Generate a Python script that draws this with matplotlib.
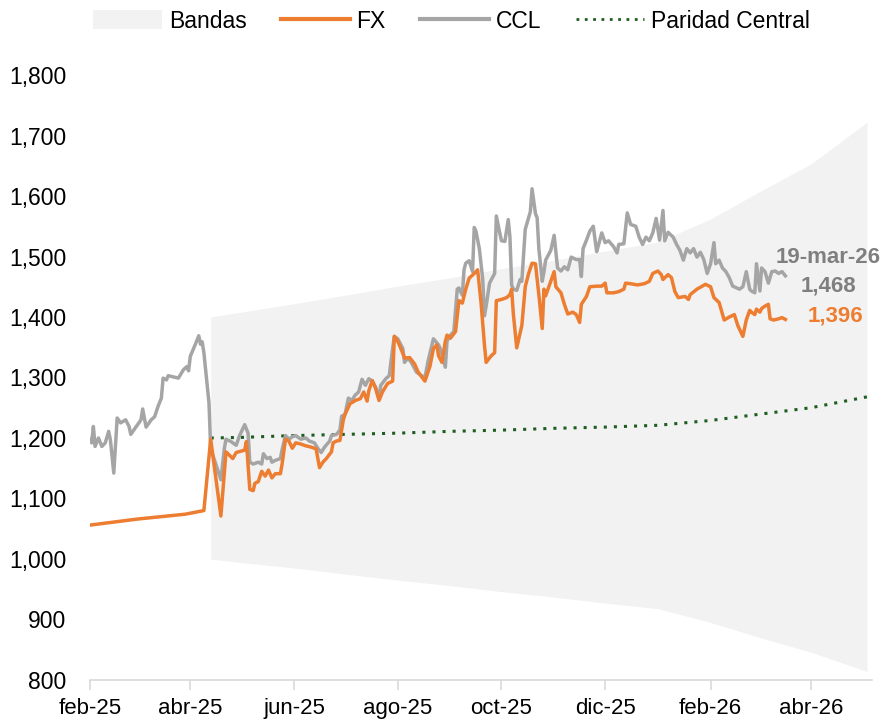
import matplotlib
matplotlib.use("Agg")
import matplotlib.pyplot as plt
from matplotlib.patches import Patch
from matplotlib.lines import Line2D
import pandas as pd

# Tipo de cambio oficial (FX) y CCL
fx_dates = [
    "2025-02-01", "2025-02-15", "2025-03-01", "2025-03-15", "2025-03-29", "2025-04-09",
    "2025-04-13", "2025-04-19", "2025-04-22", "2025-04-26", "2025-04-28", "2025-05-03",
    "2025-05-04", "2025-05-06", "2025-05-08", "2025-05-09", "2025-05-11", "2025-05-13",
    "2025-05-15", "2025-05-17", "2025-05-19", "2025-05-21", "2025-05-24", "2025-05-25",
    "2025-05-27", "2025-05-29", "2025-05-31", "2025-06-02", "2025-06-05", "2025-06-08",
    "2025-06-11", "2025-06-14", "2025-06-16", "2025-06-18", "2025-06-20", "2025-06-23",
    "2025-06-24", "2025-06-26", "2025-06-28", "2025-06-30", "2025-07-01", "2025-07-04",
    "2025-07-06", "2025-07-07", "2025-07-10", "2025-07-12", "2025-07-14", "2025-07-15",
    "2025-07-17", "2025-07-19", "2025-07-21", "2025-07-23", "2025-07-26", "2025-07-29",
    "2025-07-30", "2025-08-01", "2025-08-04", "2025-08-05", "2025-08-08", "2025-08-11",
    "2025-08-13", "2025-08-17", "2025-08-20", "2025-08-22", "2025-08-24", "2025-08-25",
    "2025-08-27", "2025-08-29", "2025-08-30", "2025-09-01", "2025-09-04", "2025-09-06",
    "2025-09-08", "2025-09-10", "2025-09-12", "2025-09-15", "2025-09-17", "2025-09-19",
    "2025-09-21", "2025-09-22", "2025-09-25", "2025-09-27", "2025-09-28", "2025-10-01",
    "2025-10-04", "2025-10-06", "2025-10-07", "2025-10-08", "2025-10-10", "2025-10-13",
    "2025-10-15", "2025-10-17", "2025-10-19", "2025-10-21", "2025-10-23", "2025-10-25",
    "2025-10-26", "2025-10-27", "2025-10-29", "2025-11-01", "2025-11-02", "2025-11-05",
    "2025-11-07", "2025-11-09", "2025-11-12", "2025-11-14", "2025-11-16", "2025-11-17",
    "2025-11-20", "2025-11-22", "2025-11-26", "2025-11-29", "2025-12-01", "2025-12-02",
    "2025-12-06", "2025-12-09", "2025-12-12", "2025-12-13", "2025-12-16", "2025-12-20",
    "2025-12-24", "2025-12-27", "2025-12-29", "2026-01-01", "2026-01-03", "2026-01-04",
    "2026-01-07", "2026-01-09", "2026-01-11", "2026-01-13", "2026-01-17", "2026-01-19",
    "2026-01-20", "2026-01-24", "2026-01-29", "2026-02-01", "2026-02-03", "2026-02-06",
    "2026-02-08", "2026-02-09", "2026-02-12", "2026-02-15", "2026-02-17", "2026-02-20",
    "2026-02-22", "2026-02-24", "2026-02-25", "2026-02-27", "2026-02-28", "2026-03-02",
    "2026-03-03", "2026-03-05", "2026-03-07", "2026-03-08", "2026-03-10", "2026-03-13",
    "2026-03-15", "2026-03-17",
]
fx_values = [
    1056, 1061, 1066, 1070, 1074, 1080,
    1198, 1071, 1177, 1166, 1176, 1180,
    1194, 1115, 1113, 1125, 1128, 1145,
    1137, 1147, 1134, 1141, 1141, 1157,
    1198, 1195, 1183, 1192, 1190, 1187,
    1185, 1182, 1151, 1160, 1166, 1177,
    1192, 1195, 1196, 1230, 1239, 1257,
    1260, 1262, 1265, 1276, 1261, 1278,
    1295, 1282, 1262, 1276, 1290, 1294,
    1368, 1360, 1340, 1332, 1333, 1322,
    1309, 1294, 1319, 1348, 1354, 1336,
    1325, 1360, 1370, 1365, 1376, 1427,
    1423, 1446, 1464, 1472, 1478, 1424,
    1354, 1325, 1336, 1341, 1427, 1429,
    1432, 1437, 1446, 1405, 1349, 1386,
    1450, 1472, 1489, 1488, 1437, 1381,
    1446, 1435, 1451, 1475, 1450, 1440,
    1421, 1405, 1408, 1404, 1391, 1421,
    1434, 1450, 1451, 1451, 1456, 1440,
    1440, 1442, 1446, 1456, 1455, 1453,
    1455, 1459, 1472, 1476, 1470, 1462,
    1470, 1465, 1442, 1432, 1434, 1429,
    1437, 1446, 1454, 1450, 1432, 1424,
    1405, 1395, 1400, 1404, 1386, 1368,
    1395, 1411, 1408, 1404, 1413, 1408,
    1414, 1418, 1421, 1397, 1395, 1397,
    1399, 1396,
]

ccl_dates = [
    "2025-02-01", "2025-02-02", "2025-02-03", "2025-02-04", "2025-02-06", "2025-02-08",
    "2025-02-10", "2025-02-12", "2025-02-13", "2025-02-15", "2025-02-17", "2025-02-19",
    "2025-02-22", "2025-02-24", "2025-02-25", "2025-02-28", "2025-03-03", "2025-03-04",
    "2025-03-06", "2025-03-09", "2025-03-11", "2025-03-13", "2025-03-15", "2025-03-16",
    "2025-03-18", "2025-03-19", "2025-03-22", "2025-03-25", "2025-03-28", "2025-03-30",
    "2025-03-31", "2025-04-01", "2025-04-04", "2025-04-06", "2025-04-07", "2025-04-08",
    "2025-04-09", "2025-04-12", "2025-04-13", "2025-04-16", "2025-04-19", "2025-04-21",
    "2025-04-22", "2025-04-25", "2025-04-28", "2025-04-30", "2025-05-03", "2025-05-05",
    "2025-05-06", "2025-05-08", "2025-05-11", "2025-05-13", "2025-05-14", "2025-05-16",
    "2025-05-18", "2025-05-19", "2025-05-21", "2025-05-24", "2025-05-25", "2025-05-27",
    "2025-05-29", "2025-05-31", "2025-06-02", "2025-06-05", "2025-06-08", "2025-06-10",
    "2025-06-13", "2025-06-15", "2025-06-17", "2025-06-19", "2025-06-22", "2025-06-23",
    "2025-06-26", "2025-06-28", "2025-06-29", "2025-07-01", "2025-07-03", "2025-07-05",
    "2025-07-07", "2025-07-09", "2025-07-11", "2025-07-13", "2025-07-15", "2025-07-17",
    "2025-07-19", "2025-07-21", "2025-07-22", "2025-07-25", "2025-07-27", "2025-07-29",
    "2025-07-30", "2025-08-01", "2025-08-04", "2025-08-05", "2025-08-07", "2025-08-09",
    "2025-08-12", "2025-08-15", "2025-08-17", "2025-08-19", "2025-08-22", "2025-08-25",
    "2025-08-26", "2025-08-29", "2025-08-30", "2025-09-01", "2025-09-03", "2025-09-05",
    "2025-09-06", "2025-09-08", "2025-09-09", "2025-09-10", "2025-09-12", "2025-09-14",
    "2025-09-15", "2025-09-16", "2025-09-18", "2025-09-20", "2025-09-21", "2025-09-22",
    "2025-09-24", "2025-09-27", "2025-09-28", "2025-09-30", "2025-10-01", "2025-10-03",
    "2025-10-05", "2025-10-06", "2025-10-07", "2025-10-08", "2025-10-10", "2025-10-12",
    "2025-10-13", "2025-10-15", "2025-10-17", "2025-10-18", "2025-10-19", "2025-10-21",
    "2025-10-22", "2025-10-23", "2025-10-25", "2025-10-26", "2025-10-27", "2025-10-30",
    "2025-11-01", "2025-11-03", "2025-11-05", "2025-11-07", "2025-11-09", "2025-11-11",
    "2025-11-14", "2025-11-16", "2025-11-17", "2025-11-18", "2025-11-20", "2025-11-22",
    "2025-11-24", "2025-11-26", "2025-11-27", "2025-11-29", "2025-12-01", "2025-12-03",
    "2025-12-06", "2025-12-08", "2025-12-09", "2025-12-12", "2025-12-14", "2025-12-16",
    "2025-12-19", "2025-12-21", "2025-12-23", "2025-12-25", "2025-12-27", "2025-12-29",
    "2025-12-31", "2026-01-02", "2026-01-04", "2026-01-05", "2026-01-07", "2026-01-10",
    "2026-01-12", "2026-01-14", "2026-01-16", "2026-01-18", "2026-01-20", "2026-01-22",
    "2026-01-24", "2026-01-26", "2026-01-28", "2026-01-30", "2026-02-01", "2026-02-03",
    "2026-02-04", "2026-02-06", "2026-02-08", "2026-02-10", "2026-02-12", "2026-02-14",
    "2026-02-18", "2026-02-20", "2026-02-22", "2026-02-24", "2026-02-25", "2026-02-27",
    "2026-02-28", "2026-03-02", "2026-03-03", "2026-03-05", "2026-03-07", "2026-03-09",
    "2026-03-11", "2026-03-13", "2026-03-15", "2026-03-17",
]
ccl_values = [
    1197, 1192, 1219, 1186, 1200, 1186,
    1192, 1211, 1197, 1142, 1233, 1225,
    1230, 1219, 1206, 1218, 1230, 1248,
    1218, 1230, 1235, 1252, 1266, 1299,
    1296, 1303, 1301, 1299, 1313, 1318,
    1311, 1335, 1355, 1369, 1355, 1359,
    1341, 1258, 1182, 1157, 1131, 1182,
    1198, 1194, 1188, 1204, 1222, 1208,
    1160, 1157, 1160, 1157, 1174, 1166,
    1168, 1160, 1163, 1166, 1181, 1204,
    1198, 1202, 1204, 1198, 1200, 1195,
    1192, 1183, 1176, 1185, 1195, 1204,
    1206, 1213, 1236, 1239, 1266, 1262,
    1271, 1276, 1297, 1287, 1298, 1294,
    1284, 1266, 1287, 1298, 1303, 1348,
    1368, 1364, 1348, 1325, 1332, 1325,
    1309, 1303, 1300, 1329, 1364, 1354,
    1348, 1317, 1360, 1370, 1376, 1446,
    1448, 1436, 1478, 1489, 1493, 1475,
    1548, 1542, 1513, 1462, 1402, 1418,
    1456, 1472, 1567, 1539, 1526, 1525,
    1561, 1532, 1453, 1446, 1444, 1462,
    1459, 1545, 1564, 1574, 1612, 1571,
    1564, 1513, 1459, 1475, 1494, 1510,
    1535, 1481, 1476, 1483, 1478, 1499,
    1495, 1495, 1467, 1513, 1527, 1542,
    1550, 1508, 1518, 1539, 1523, 1526,
    1516, 1506, 1520, 1521, 1572, 1553,
    1550, 1532, 1520, 1532, 1526, 1539,
    1563, 1527, 1576, 1526, 1540, 1532,
    1520, 1510, 1494, 1513, 1506, 1513,
    1499, 1507, 1495, 1472, 1488, 1523,
    1488, 1494, 1481, 1475, 1465, 1451,
    1446, 1450, 1475, 1446, 1443, 1440,
    1488, 1443, 1481, 1475, 1456, 1475,
    1476, 1472, 1475, 1468,
]

# Bandas cambiarias y paridad central
band_dates = [
    "2025-04-13", "2025-05-01", "2025-06-01", "2025-07-01", "2025-08-01", "2025-09-01",
    "2025-10-01", "2025-11-01", "2025-12-01", "2026-01-01", "2026-02-01", "2026-03-01",
    "2026-04-01", "2026-05-04",
]
band_upper = [1400, 1408, 1422, 1436, 1451, 1465, 1480, 1494, 1509, 1524, 1562, 1606, 1653, 1722]
band_lower = [1000, 994, 985, 975, 965, 956, 946, 937, 927, 918, 895, 871, 846, 814]
parity = [1200, 1201, 1204, 1206, 1208, 1211, 1213, 1216, 1218, 1221, 1229, 1239, 1250, 1268]

tick_dates = ["2025-02-01", "2025-04-01", "2025-06-01", "2025-08-01", "2025-10-01",
              "2025-12-01", "2026-02-01", "2026-04-01"]
tick_labels = ["feb-25", "abr-25", "jun-25", "ago-25", "oct-25", "dic-25", "feb-26", "abr-26"]

last_date_label = "19-mar-26"

ORANGE = "#ED7D31"
GREY = "#A5A5A5"
LABEL_GREY = "#7F7F7F"
BAND = "#F2F2F2"
GREEN = "#1D5E20"
AXIS = "#D9D9D9"

plt.rcParams["font.family"] = ["Liberation Sans", "DejaVu Sans"]


def main() -> None:
    fx_x = pd.to_datetime(fx_dates)
    ccl_x = pd.to_datetime(ccl_dates)
    band_x = pd.to_datetime(band_dates)

    fig = plt.figure(figsize=(8.89, 7.2), dpi=100)
    ax = fig.add_axes([0.1012, 0.0556, 0.8798, 0.8402])

    ax.fill_between(band_x, band_lower, band_upper, color=BAND, linewidth=0, zorder=1)
    ax.plot(band_x, parity, color=GREEN, linewidth=2.2, linestyle=(0, (1, 2.3)), zorder=2)
    ax.plot(ccl_x, ccl_values, color=GREY, linewidth=2.5, zorder=3)
    ax.plot(fx_x, fx_values, color=ORANGE, linewidth=2.5, zorder=4)

    ax.set_ylim(800, 1800)
    ax.set_yticks(range(800, 1801, 100))
    ax.set_yticklabels([f"{v:,}" for v in range(800, 1801, 100)])
    ax.set_xlim(pd.Timestamp("2025-02-02"), pd.Timestamp("2026-05-07"))
    ax.set_xticks(pd.to_datetime(tick_dates))
    ax.set_xticklabels(tick_labels)

    for side in ["top", "right", "left"]:
        ax.spines[side].set_visible(False)
    ax.spines["bottom"].set_color(AXIS)
    ax.spines["bottom"].set_linewidth(1.2)

    ax.tick_params(axis="y", length=0, pad=17, labelsize=16.5, labelcolor="#000000")
    ax.tick_params(axis="x", length=7, width=1.2, color=AXIS, pad=6, labelsize=16,
                   labelcolor="#000000")

    # Etiquetas del ultimo dato
    ax.text(pd.Timestamp("2026-03-11"), 1499, last_date_label, color=LABEL_GREY,
            fontsize=16, fontweight="bold", ha="left", va="center")
    ax.text(pd.Timestamp("2026-03-26"), 1451, f"{ccl_values[-1]:,}", color=LABEL_GREY,
            fontsize=16, fontweight="bold", ha="left", va="center")
    ax.text(pd.Timestamp("2026-03-30"), 1401, f"{fx_values[-1]:,}", color=ORANGE,
            fontsize=16, fontweight="bold", ha="left", va="center")

    handles = [
        Patch(facecolor=BAND, edgecolor="none", label="Bandas"),
        Line2D([0], [0], color=ORANGE, linewidth=3, label="FX"),
        Line2D([0], [0], color=GREY, linewidth=3, label="CCL"),
        Line2D([0], [0], color=GREEN, linewidth=2, linestyle=(0, (1, 2)), label="Paridad Central"),
    ]
    fig.legend(handles=handles, loc="center", bbox_to_anchor=(0.508, 1 - 21 / 720),
               ncol=4, frameon=False, fontsize=16.5, handlelength=3.0, handleheight=0.9,
               handletextpad=0.3, columnspacing=1.5)

    fig.savefig("out.png", dpi=100)
    plt.close(fig)


if __name__ == "__main__":
    main()
